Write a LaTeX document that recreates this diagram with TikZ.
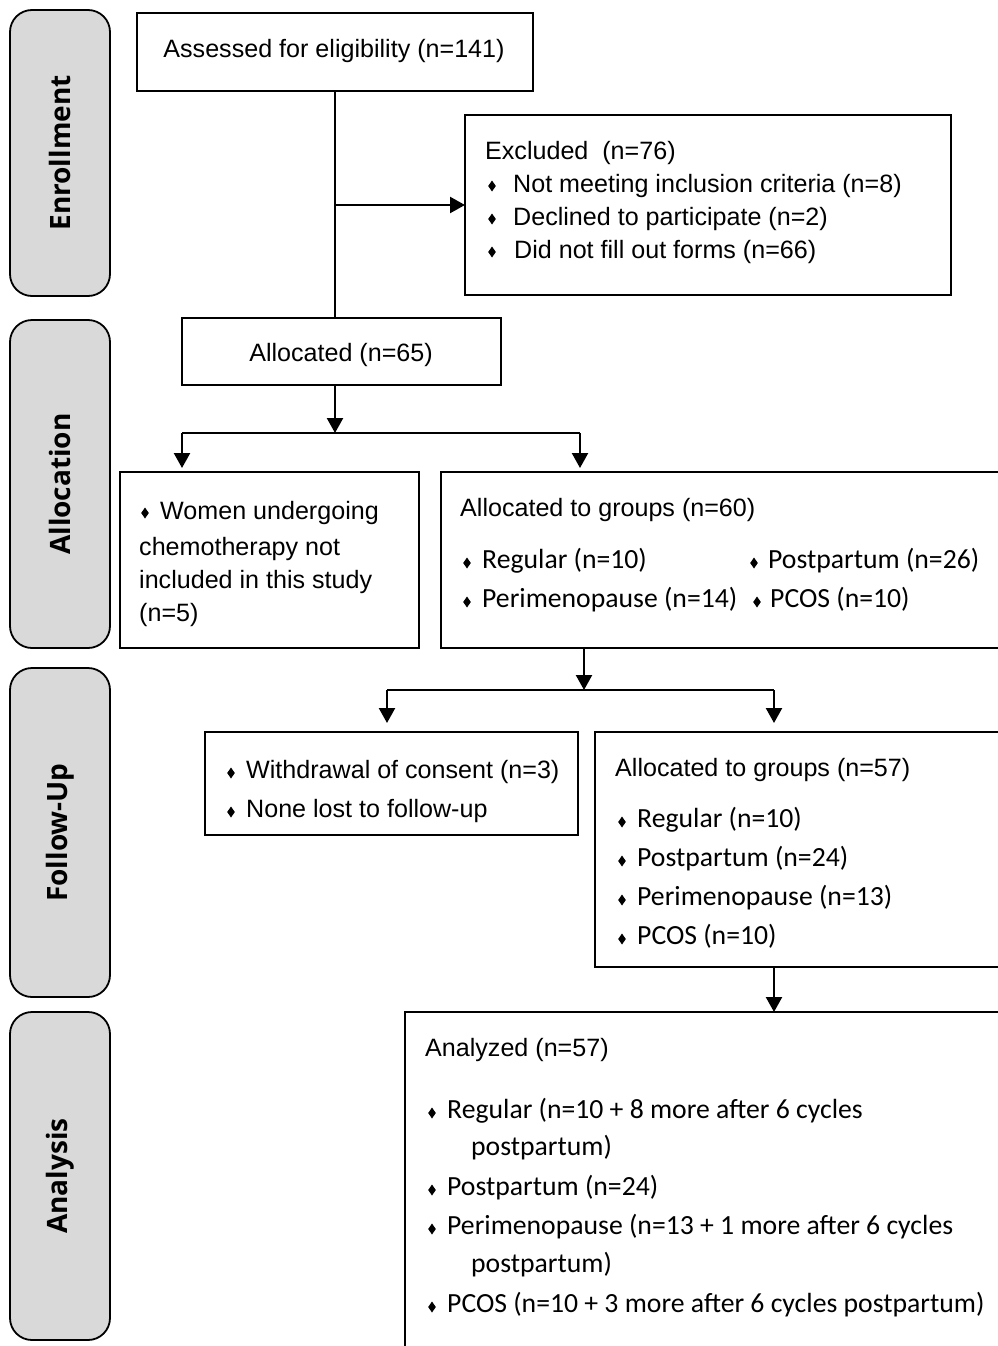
\documentclass[tikz,border=0pt]{standalone}
\usepackage{fontspec}
\setmainfont{Liberation Sans}
\newfontfamily\calfont{Carlito}
\newfontfamily\sidefont{Open Sans}
\usetikzlibrary{arrows.meta}
\definecolor{sidegray}{RGB}{217,217,217}
\newcommand\dia[2]{\fill (#1,#2) +(0,-5.5) -- +(3.8,0) -- +(0,5.5) -- +(-3.8,0) -- cycle;}
\begin{document}
\begin{tikzpicture}[x=1pt,y=-1pt,
  box/.style={draw, line width=1.6pt, inner sep=0pt, outer sep=0pt},
  side/.style={draw, fill=sidegray, rounded corners=22pt, line width=1.8pt, rotate=90,
    minimum height=100pt, inner sep=0pt, outer sep=0pt,
    font=\sidefont\bfseries\fontsize{28}{32}\selectfont},
  ar/.style={anchor=base west, inner sep=0pt, font=\fontsize{25.1}{30}\selectfont},
  cb/.style={anchor=base west, inner sep=0pt, font=\calfont\fontsize{27.7}{32}\selectfont},
  ln/.style={line width=2.3pt},
  arr/.style={line width=2.3pt, -{Triangle[width=16pt,length=15pt]}}]
\useasboundingbox (0,0) rectangle (998,1346);
\fill[white] (0,0) rectangle (998,1346);

% side labels
\node[side, minimum width=286pt] (enr) at (60,153) {Enrollment};
\node[side, minimum width=328pt] (allo) at (60,484) {Allocation};
\node[side, minimum width=329pt] (fol) at (60,832.5) {Follow-Up};
\node[side, minimum width=328pt] (ana) at (60,1176) {Analysis};

% boxes
\node[box, minimum width=396pt, minimum height=78pt] (assess) at (335,52) {};
\node[box, minimum width=486pt, minimum height=180pt] (excl) at (708,205) {};
\node[box, minimum width=319pt, minimum height=67pt] (alloc) at (341.5,351.5) {};
\node[box, minimum width=299pt, minimum height=176pt] (chemo) at (269.5,560) {};
\node[box, minimum width=569pt, minimum height=176pt] (g60) at (725.5,560) {};
\node[box, minimum width=373pt, minimum height=103pt] (wd) at (391.5,783.5) {};
\node[box, minimum width=415pt, minimum height=235pt] (g57) at (802.5,849.5) {};
\node[box, minimum width=605pt, minimum height=348pt] (an) at (707.5,1186) {};

% texts
\node[ar, anchor=base] (tassess) at (334,57) {Assessed for eligibility (n=141)};

\node[ar] (tex0) at (485,159) {Excluded\ \ (n=76)};
\dia{492}{186}\node[ar] (tex1) at (513,192) {Not meeting inclusion criteria (n=8)};
\dia{492}{219}\node[ar] (tex2) at (513,225) {Declined to participate (n=2)};
\dia{492}{252}\node[ar] (tex3) at (514,258) {Did not fill out forms (n=66)};

\node[ar, anchor=base] (talloc) at (341,361) {Allocated (n=65)};

\dia{145}{513}\node[ar] (tch1) at (160,519) {Women undergoing};
\node[ar] (tch2) at (139,555) {chemotherapy not};
\node[ar] (tch3) at (139,588) {included in this study};
\node[ar] (tch4) at (139,621) {(n=5)};

\node[ar] (tg60) at (460,516) {Allocated to groups (n=60)};
\dia{467}{563}\node[cb] (tg61) at (482,568) {Regular (n=10)};
\dia{754}{563}\node[cb] (tg62) at (768,568) {Postpartum (n=26)};
\dia{467}{602}\node[cb] (tg63) at (482,607) {Perimenopause (n=14)};
\dia{757}{602}\node[cb] (tg64) at (770,607) {PCOS (n=10)};

\dia{231}{773}\node[ar] (twd1) at (246,778) {Withdrawal of consent (n=3)};
\dia{231}{812}\node[ar] (twd2) at (246,817) {None lost to follow-up};

\node[ar] (tg57) at (615,776) {Allocated to groups (n=57)};
\dia{622}{822}\node[cb] (tg571) at (637,827) {Regular (n=10)};
\dia{622}{861}\node[cb] (tg572) at (637,866) {Postpartum (n=24)};
\dia{622}{900}\node[cb] (tg573) at (637,905) {Perimenopause (n=13)};
\dia{622}{939}\node[cb] (tg574) at (637,944) {PCOS (n=10)};

\node[ar] (tan) at (425,1056) {Analyzed (n=57)};
\dia{432}{1113}\node[cb] (tan1) at (447,1118) {Regular (n=10 + 8 more after 6 cycles};
\node[cb] (tan1b) at (471,1155) {postpartum)};
\dia{432}{1190}\node[cb] (tan2) at (447,1195) {Postpartum (n=24)};
\dia{432}{1229}\node[cb] (tan3) at (447,1234) {Perimenopause (n=13 + 1 more after 6 cycles};
\node[cb] (tan3b) at (471,1272) {postpartum)};
\dia{432}{1307}\node[cb] (tan4) at (447,1312) {PCOS (n=10 + 3 more after 6 cycles postpartum)};

% connectors
\draw[ln] (assess.south) -- (assess.south |- alloc.north);
\coordinate (j1) at (assess.south |- excl.west);
\draw[arr] (j1) -- (excl.west);
\coordinate (s1) at (335,433);
\coordinate (sL) at (182,433);
\coordinate (sR) at (580,433);
\draw[arr] (s1 |- alloc.south) -- (s1);
\draw[ln] (sL) -- (sR);
\draw[arr, shorten >=4pt] (sL) -- (sL |- chemo.north);
\draw[arr, shorten >=4pt] (sR) -- (sR |- g60.north);
\coordinate (s2) at (584,690);
\coordinate (sL2) at (387,690);
\coordinate (sR2) at (774,690);
\draw[arr] (s2 |- g60.south) -- (s2);
\draw[ln] (sL2) -- (sR2);
\draw[arr, shorten >=9pt] (sL2) -- (sL2 |- wd.north);
\draw[arr, shorten >=9pt] (sR2) -- (sR2 |- g57.north);
\draw[arr] (sR2 |- g57.south) -- (sR2 |- an.north);
\end{tikzpicture}
\end{document}
